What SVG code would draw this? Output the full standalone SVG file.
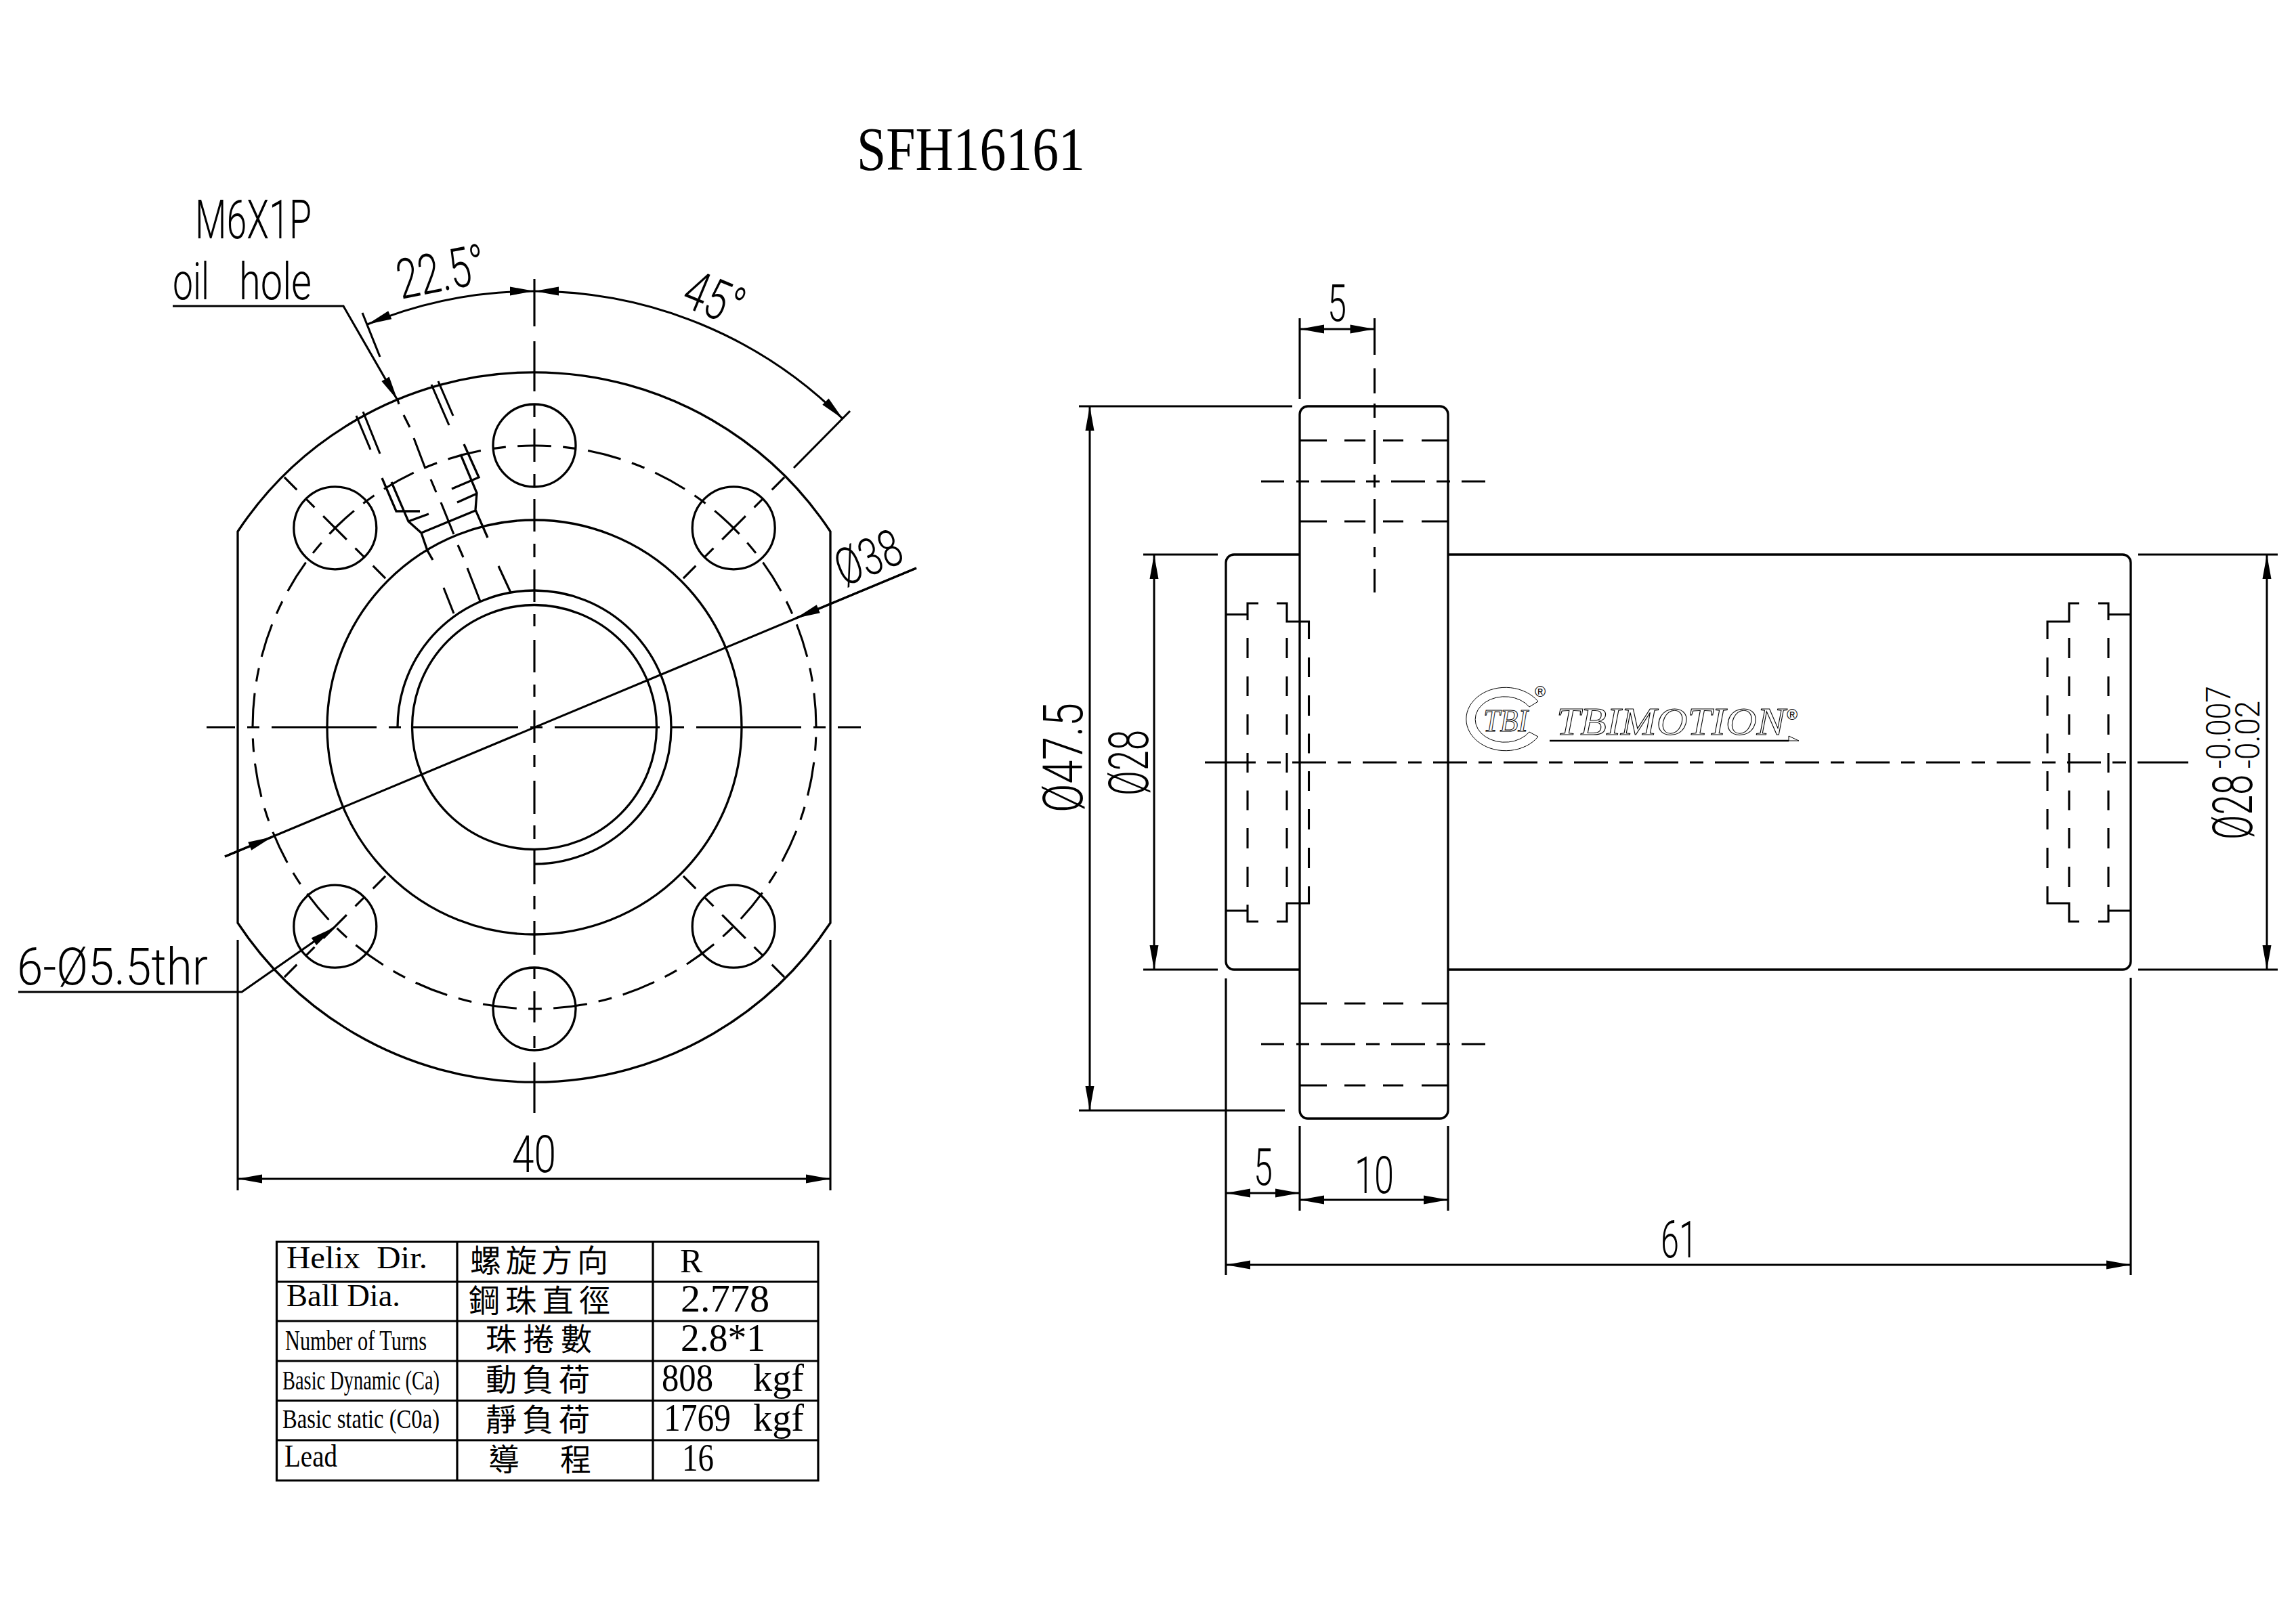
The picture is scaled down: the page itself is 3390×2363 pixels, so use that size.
<svg xmlns="http://www.w3.org/2000/svg" width="3390" height="2363" viewBox="0 0 3390 2363">
<style>
.o{fill:none;stroke:#000;stroke-width:3.3}
.d{fill:none;stroke:#000;stroke-width:3;marker-start:url(#a);marker-end:url(#a)}
.l{fill:none;stroke:#000;stroke-width:3.1}
.c{font-family:"Roboto","Liberation Sans",sans-serif;font-weight:300;font-size:76px;fill:#000}
.b{font-size:82px}
.s{font-size:50px}
.t{font-family:"Liberation Serif",serif;fill:#000;font-size:46px}
.k{font-family:"Liberation Serif","Noto Sans CJK TC",serif;font-size:46px;fill:#000}
.v{font-size:58px}
.g{font-family:"Liberation Serif",serif;font-style:italic;fill:#fff;stroke:#000;stroke-width:1}
.bc{stroke-dasharray:50 17.3 20 17.3;stroke-dashoffset:-52}
.rad{stroke-dasharray:49 18 19 18;stroke-dashoffset:23}
</style>
<defs>
<marker id="a" viewBox="-1 -8 38 16" refX="36" refY="0" markerWidth="38" markerHeight="16" markerUnits="userSpaceOnUse" orient="auto-start-reverse"><path d="M0,-6.5L36,0L0,6.5z" fill="#000"/></marker>
</defs>
<rect width="3390" height="2363" fill="#fff"/>
<g id="title"><text class="t" x="1265" y="251" style="font-size:92px" textLength="337" lengthAdjust="spacingAndGlyphs">SFH16161</text></g>

<g id="front-view">
<path class="o" d="M351,785V1363A524.5,524.5 0 0 0 1226,1363V785A524.5,524.5 0 0 0 351,785Z"/>
<circle class="o" cx="789" cy="1074" r="306"/>
<circle class="o" cx="789" cy="1074" r="180.5"/>
<path class="o" d="M789,1276A202,202 0 1 0 587,1074"/>
<circle class="o" cx="789" cy="658" r="61"/>
<circle class="o" cx="789" cy="1490" r="61"/>
<circle class="o" cx="494.8" cy="779.8" r="61"/>
<circle class="o" cx="1083.2" cy="779.8" r="61"/>
<circle class="o" cx="494.8" cy="1368.2" r="61"/>
<circle class="o" cx="1083.2" cy="1368.2" r="61"/>
<circle class="l bc" cx="789" cy="1074" r="416"/>
<path class="l rad" d="M419.9,704.9L569.1,854.1"/>
<path class="l rad" d="M1158.1,704.9L1008.9,854.1"/>
<path class="l rad" d="M419.9,1443.1L569.1,1293.9"/>
<path class="l rad" d="M1158.1,1443.1L1008.9,1293.9"/>
<path class="l" d="M305,1074H1271" stroke-dasharray="155 18 18 18" stroke-dashoffset="113"/>
<path class="l" d="M789,412V482M789,504V578M789,597V616M789,633V682M789,700V718M789,737V785M789,803V823M789,841V889M789,907V925M789,945V993M789,1011V1029M789,1049V1097M789,1115V1133M789,1153V1202M789,1219V1239M789,1256V1306M789,1323V1343M789,1360V1410M789,1428V1446M789,1464V1510M789,1530V1548M789,1569V1644"/>
<path class="l" d="M526,614L547,664M536,608L561,670M637,568L663,628M647,563L669,614M587,590L589,597M596,613L605,631M611,647L628,692M636,708L644,727M651,742L670,789M676,805L684,823M690,839L709,888M736,836L754,875M655,868L670,906"/>
<path class="o" d="M564,706L585,755L620,755M578,712L603,770L622,787L631,813L639,827M685,656L707,705L667,722M680,671L704,728L702,753L720,794M622,787L702,754M603,770L633,759M704,729L675,742"/>
</g>

<g id="side-view">
<path class="o" d="M1919,612A12,12 0 0 1 1931,600H2126A12,12 0 0 1 2138,612V1640A12,12 0 0 1 2126,1652H1931A12,12 0 0 1 1919,1640Z"/>
<path class="o" d="M1919,819H1822A12,12 0 0 0 1810,831V1420A12,12 0 0 0 1822,1432H1919"/>
<path class="o" d="M2138,819H3134A12,12 0 0 1 3146,831V1420A12,12 0 0 1 3134,1432H2138"/>
<path class="l" d="M1920,650.5H1959M1985,650.5H2016M2042,650.5H2072M2099,650.5H2138M1920,770H1959M1985,770H2016M2042,770H2072M2099,770H2138M1920,1482H1959M1985,1482H2016M2042,1482H2072M2099,1482H2138M1920,1603H1959M1985,1603H2016M2042,1603H2072M2099,1603H2138"/>
<path class="l" d="M1862,711H1896M1914,711H1933M1950,711H2001M2017,711H2037M2054,711H2104M2121,711H2141M2158,711H2193M1862,1542H1896M1914,1542H1933M1950,1542H2001M2017,1542H2037M2054,1542H2104M2121,1542H2141M2158,1542H2193"/>
<path class="l" d="M2029.5,470V524M2029.5,544V581M2029.5,596V617M2029.5,635V685M2029.5,701V720M2029.5,737V788M2029.5,808V823M2029.5,840V875"/>
<path class="l" d="M1779,1126H1854M1871,1126H1891M3156,1126H3231"/>
<path class="l" d="M1908,1126H3156" stroke-dasharray="50 17 20 17"/>
<path class="l" d="M1810,907.5H1842M1842,916V891H1858M1885,891H1900V918H1932.5V944M1810,1345H1842M1842,1336V1361H1858M1885,1361H1900V1334H1932.5V1309"/>
<path class="l" d="M3146,907.5H3113M3113,916V891H3098M3070,891H3055V918H3023V944M3146,1345H3113M3113,1336V1361H3098M3070,1361H3055V1334H3023V1309"/>
<path class="l" d="M1842,942V972M1842,999V1028M1842,1055V1085M1842,1112V1141M1842,1167.5V1196.5M1842,1223V1253M1842,1280V1310M1900,942V972M1900,999V1028M1900,1055V1085M1900,1112V1141M1900,1167.5V1196.5M1900,1223V1253M1900,1280V1310M3055,942V972M3055,999V1028M3055,1055V1085M3055,1112V1141M3055,1167.5V1196.5M3055,1223V1253M3055,1280V1310M3113,942V972M3113,999V1028M3113,1055V1085M3113,1112V1141M3113,1167.5V1196.5M3113,1223V1253M3113,1280V1310"/>
<path class="l" d="M1932.5,971V1000M1932.5,1027V1057M1932.5,1083.5V1112.5M1932.5,1139V1168M1932.5,1195V1225M1932.5,1252V1282M3023,971V1000M3023,1027V1057M3023,1083.5V1112.5M3023,1139V1168M3023,1195V1225M3023,1252V1282"/>
</g>

<g id="logo">
<path fill="none" stroke="#000" stroke-width="1" d="M2271,1036A58,46.7 0 1 0 2271,1088L2258,1081A43.5,33.7 0 1 1 2258,1044Z"/>
<text class="g" x="2190" y="1080" style="font-size:47px" textLength="66" lengthAdjust="spacingAndGlyphs">TBI</text>
<text x="2274" y="1029" text-anchor="middle" font-family="Liberation Sans,sans-serif" font-size="22">®</text>
<text class="g" x="2298" y="1085" style="font-size:56px" textLength="338" lengthAdjust="spacingAndGlyphs">TBIMOTION</text>
<text x="2646" y="1063" text-anchor="middle" font-family="Liberation Sans,sans-serif" font-size="22">®</text>
<path d="M2288,1094H2641" stroke="#000" stroke-width="2.6"/>
<path d="M2641,1087L2656,1094H2641Z" fill="#fff" stroke="#000" stroke-width="1"/>
</g>

<g id="table">
<path fill="none" stroke="#000" stroke-width="3.2" d="M408.5,1834H1208V2186.5H408.5ZM675,1834V2186.5M964,1834V2186.5M408.5,1893H1208M408.5,1951H1208M408.5,2010H1208M408.5,2068.5H1208M408.5,2127H1208"/>
<text class="t" x="423" y="1873" textLength="208" lengthAdjust="spacingAndGlyphs" xml:space="preserve">Helix  Dir.</text>
<text class="t" x="423" y="1929" textLength="168" lengthAdjust="spacingAndGlyphs">Ball Dia.</text>
<text class="t" x="421" y="1994" style="font-size:42px" textLength="209" lengthAdjust="spacingAndGlyphs">Number of Turns</text>
<text class="t" x="417" y="2051.5" style="font-size:40px" textLength="232" lengthAdjust="spacingAndGlyphs">Basic Dynamic (Ca)</text>
<text class="t" x="417" y="2109" style="font-size:40px" textLength="232" lengthAdjust="spacingAndGlyphs">Basic static (C0a)</text>
<text class="t" x="420" y="2166" textLength="78" lengthAdjust="spacingAndGlyphs">Lead</text>
<text class="k" x="694" y="1878" textLength="204">螺旋方向</text>
<text class="k" x="692" y="1937" textLength="209">鋼珠直徑</text>
<text class="k" x="717" y="1994" textLength="157">珠捲數</text>
<text class="k" x="717" y="2054" textLength="154">動負荷</text>
<text class="k" x="717" y="2113" textLength="154">靜負荷</text>
<text class="k" x="721" y="2172" textLength="152" xml:space="preserve">導  程</text>
<text class="t" x="1004" y="1878.5" style="font-size:50px">R</text>
<text class="t v" x="1005" y="1937" textLength="131" lengthAdjust="spacingAndGlyphs">2.778</text>
<text class="t v" x="1005" y="1995" textLength="125" lengthAdjust="spacingAndGlyphs">2.8*1</text>
<text class="t v" y="2054"><tspan x="977" textLength="76" lengthAdjust="spacingAndGlyphs">808</tspan> <tspan x="1112" textLength="75" lengthAdjust="spacingAndGlyphs">kgf</tspan></text>
<text class="t v" y="2113"><tspan x="980" textLength="99" lengthAdjust="spacingAndGlyphs">1769</tspan> <tspan x="1112" textLength="75" lengthAdjust="spacingAndGlyphs">kgf</tspan></text>
<text class="t v" x="1007" y="2172" textLength="47" lengthAdjust="spacingAndGlyphs">16</text>
</g>

<g id="labels">
<text class="c" x="288" y="352" style="font-size:80px" textLength="172" lengthAdjust="spacingAndGlyphs">M6X1P</text>
<text class="c" y="442"><tspan x="255" textLength="54" lengthAdjust="spacingAndGlyphs">oil</tspan> <tspan x="353" textLength="107" lengthAdjust="spacingAndGlyphs">hole</tspan></text>
<text class="c b" transform="translate(592,442) rotate(-11.25)" textLength="132" lengthAdjust="spacingAndGlyphs">22.5°</text>
<text class="c b" transform="translate(1003,450) rotate(22.5)" textLength="88" lengthAdjust="spacingAndGlyphs">45°</text>
<text class="c" transform="translate(1246,867) rotate(-22.5)" textLength="100" lengthAdjust="spacingAndGlyphs">Ø38</text>
<text class="c" x="25" y="1454" textLength="282" lengthAdjust="spacingAndGlyphs">6-Ø5.5thr</text>
<text class="c" x="756" y="1731" textLength="65" lengthAdjust="spacingAndGlyphs">40</text>
<text class="c" x="1960" y="474" textLength="28" lengthAdjust="spacingAndGlyphs">5</text>
<text class="c" x="1851" y="1750" textLength="28" lengthAdjust="spacingAndGlyphs">5</text>
<text class="c" x="2000" y="1762" textLength="58" lengthAdjust="spacingAndGlyphs">10</text>
<text class="c" x="2452" y="1857" textLength="54" lengthAdjust="spacingAndGlyphs">61</text>
<text class="c b" transform="translate(1598,1200) rotate(-90)" textLength="162" lengthAdjust="spacingAndGlyphs">Ø47.5</text>
<text class="c b" transform="translate(1695,1175) rotate(-90)" textLength="97" lengthAdjust="spacingAndGlyphs">Ø28</text>
<text class="c b" transform="translate(3325,1240) rotate(-90)" textLength="96" lengthAdjust="spacingAndGlyphs">Ø28</text>
<text class="c s" transform="translate(3293,1135) rotate(-90)" textLength="122" lengthAdjust="spacingAndGlyphs">-0.007</text>
<text class="c s" transform="translate(3336,1135) rotate(-90)" textLength="100" lengthAdjust="spacingAndGlyphs">-0.02</text>
</g>

<g id="connectors">
<path class="l" style="marker-end:url(#a)" d="M255,452H507L587,591"/>
<path class="l" d="M535,462L561,527"/>
<path class="d" d="M542.5,479A644,644 0 0 1 789,430"/>
<path class="d" d="M1244.4,618.6A644,644 0 0 0 789,430"/>
<path class="l" d="M1172,691L1255,607"/>
<path class="l" d="M332,1265L1353,839"/>
<path class="l" style="marker-end:url(#a)" d="M332,1265L402,1236"/>
<path class="l" style="marker-end:url(#a)" d="M1353,839L1175,913"/>
<path class="l" style="marker-end:url(#a)" d="M27,1465H357L493,1370"/>
<path class="l" d="M351,1388V1758M1226,1388V1758"/>
<path class="d" d="M351,1741H1226"/>
<path class="l" d="M1919,470V589"/>
<path class="d" d="M1919,486H2029.5"/>
<path class="l" d="M1593,600H1908M1593,1640H1897M1688,819H1798M1688,1432H1798"/>
<path class="d" d="M1609,600V1640"/>
<path class="d" d="M1704,819V1432"/>
<path class="l" d="M1810,1445V1883M3146,1444V1883"/>
<path class="d" d="M1810,1762H1919"/>
<path class="l" d="M1919,1663V1788M2138,1663V1788"/>
<path class="d" d="M1919,1772H2138"/>
<path class="d" d="M1810,1868H3146"/>
<path class="l" d="M3157,819H3363M3157,1432H3363"/>
<path class="d" d="M3347,819V1432"/>
</g>
</svg>
